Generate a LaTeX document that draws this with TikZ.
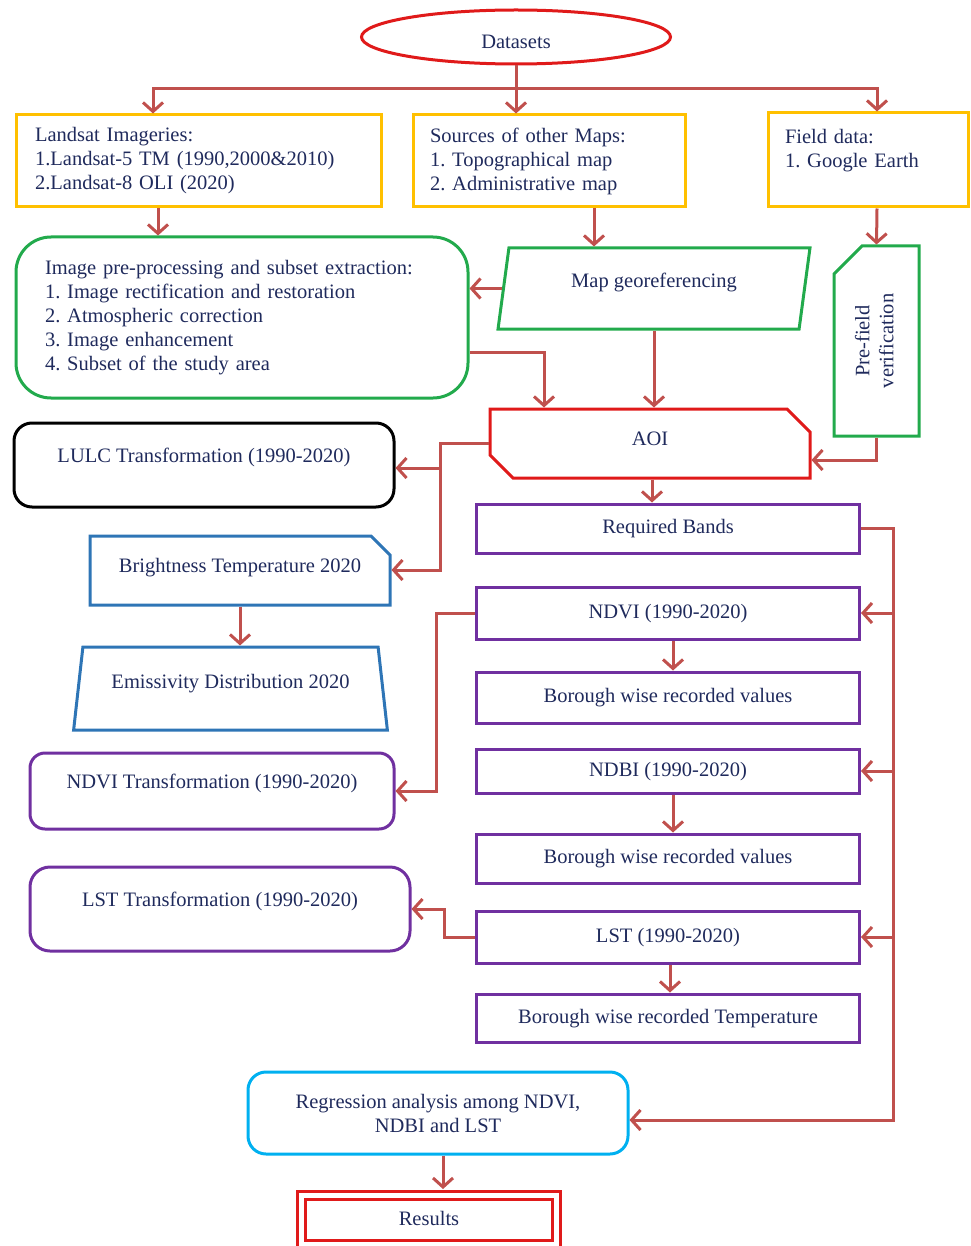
\documentclass[tikz,border=0pt]{standalone}
\usepackage{fontspec}
\setmainfont{Liberation Serif}
\usepackage{tikz}
\usetikzlibrary{arrows.meta,shapes.geometric,shapes.misc}
\frenchspacing
\definecolor{ink}{RGB}{31,42,92}
\definecolor{flowred}{RGB}{192,80,77}
\definecolor{gold}{RGB}{255,192,0}
\definecolor{leaf}{RGB}{34,170,76}
\definecolor{alert}{RGB}{224,26,26}
\definecolor{plum}{RGB}{112,48,160}
\definecolor{sea}{RGB}{46,117,182}
\definecolor{sky}{RGB}{0,176,240}
\newcommand{\fs}{\fontsize{20.5}{24}\selectfont}
\tikzstyle{box}=[draw, line width=3pt, text=ink, font=\fs, inner sep=0pt]
\tikzstyle{source}=[box, draw=gold, align=left]
\tikzstyle{task}=[box, draw=plum, minimum width=383]
\tikzstyle{link}=[draw=flowred, line width=3pt]
\tikzstyle{flow}=[link, -{Straight Barb[length=9pt,width=20pt]}]
\tikzset{lift/.style={text height=15pt, text depth=#1}, lift/.default=5pt}

\begin{document}
\begin{tikzpicture}[x=1pt,y=-1pt]
  \useasboundingbox (0,0) rectangle (970,1246);

  % data sources
  \node (ds) [box, draw=alert, ellipse, minimum width=309, minimum height=54,
              text height=29pt, text depth=5pt] at (516,37) {Datasets};
  \node (land) [source, minimum width=365, minimum height=92, text width=327]
        at (198.5,161) {Landsat Imageries:\\1.Landsat-5 TM (1990,2000\&2010)\\2.Landsat-8 OLI (2020)};
  \node (src) [source, minimum width=272, minimum height=92, text width=238]
        at (549,161) {Sources of other Maps:\\1. Topographical map\\2. Administrative map};
  \node (fld) [source, minimum width=200, minimum height=94, text width=166]
        at (868,160) {Field data:\\1. Google Earth\\\mbox{}};

  % pre-processing
  \node (prep) [box, draw=leaf, align=left, rounded corners=35, minimum width=452,
                minimum height=161, text width=394] at (242,317.5)
        {Image pre-processing and subset extraction:\\1. Image rectification and restoration\\2. Atmospheric correction\\3. Image enhancement\\4. Subset of the study area};
  \node (geo) [box, draw=leaf, trapezium, trapezium left angle=79, trapezium right angle=101,
               trapezium stretches=true, minimum width=312, minimum height=81, lift=17pt]
        at (654,288.5) {Map georeferencing};
  \node (pre) [box, draw=leaf, chamfered rectangle, chamfered rectangle corners=north west,
               chamfered rectangle xsep=14, chamfered rectangle ysep=14,
               minimum width=85, minimum height=190] at (876.5,341)
        {\rotatebox{90}{\begin{tabular}{@{}c@{}}Pre-field\\verification\end{tabular}}};
  \node (aoi) [box, draw=alert, chamfered rectangle, chamfered rectangle corners={north east,south west},
               chamfered rectangle xsep=10, chamfered rectangle ysep=13,
               minimum width=320, minimum height=69, lift=12pt] at (650,443.5) {AOI};

  % left column
  \node (lulc) [box, draw=black, rounded corners=18, minimum width=380, minimum height=84, lift=21pt]
        at (204,465) {LULC Transformation (1990-2020)};
  \node (bt) [box, draw=sea, chamfered rectangle, chamfered rectangle corners=north east,
              chamfered rectangle xsep=10, chamfered rectangle ysep=9,
              minimum width=300, minimum height=69, lift=12pt] at (240,570.5) {Brightness Temperature 2020};
  \node (em) [box, draw=sea, trapezium, trapezium left angle=76, trapezium right angle=76,
              trapezium stretches=true, minimum width=315, minimum height=83, lift=15pt]
        at (230.5,688.5) {Emissivity Distribution 2020};
  \node (ndt) [box, draw=plum, rounded corners=15, minimum width=364, minimum height=76, lift=21pt]
        at (212,791) {NDVI Transformation (1990-2020)};
  \node (lstt) [box, draw=plum, rounded corners=20, minimum width=380, minimum height=84, lift=21pt]
        at (220,909) {LST Transformation (1990-2020)};

  % right column
  \node (req) [task, minimum height=49, lift] at (668,528.5) {Required Bands};
  \node (ndvi) [task, minimum height=52, lift] at (668,613) {NDVI (1990-2020)};
  \node (bw1) [task, minimum height=51, lift] at (668,697.5) {Borough wise recorded values};
  \node (ndbi) [task, minimum height=44, lift] at (668,771) {NDBI (1990-2020)};
  \node (bw2) [task, minimum height=49, lift] at (668,858.5) {Borough wise recorded values};
  \node (lst) [task, minimum height=52, lift] at (668,937) {LST (1990-2020)};
  \node (bwt) [task, minimum height=48, lift] at (668,1018) {Borough wise recorded Temperature};

  % outcome
  \node (reg) [box, draw=sky, rounded corners=18, align=center, minimum width=380, minimum height=82]
        at (438,1113) {Regression analysis among NDVI,\\NDBI and LST};
  \node (res) [box, draw=alert, double=white, double distance=5pt, minimum width=255,
               minimum height=49, lift] at (429,1220) {Results};

  \coordinate (split) at (516,89);
  \coordinate (bus) at (893,0);

  % connections
  \draw [link] (ds.south) -- (split);
  \draw [flow] (split) -- (153,89) -- (153,0 |- land.north);
  \draw [flow] (split) -- (split |- src.north);
  \draw [flow] (split) -- (877,89) -- (877,0 |- fld.north);
  \draw [flow] (158,0 |- land.south) -- (158,0 |- prep.north);
  \draw [flow] (594,0 |- src.south) -- (594,0 |- geo.north);
  \draw [flow] (877,0 |- fld.south) -- (pre.north);
  \draw [flow] (geo.west) -- (geo.west -| prep.east);
  \draw [flow] (prep.east |- 0,352) -| (544,0 |- aoi.north);
  \draw [flow] (geo.south -| geo.center) -- (geo.center |- aoi.north);
  \draw [flow] (pre.south) |- (aoi.east |- 0,460);
  \draw [flow] (aoi.west) -| (440,570) -- (bt.east |- 0,570);
  \draw [flow] (440,468) -- (lulc.east |- 0,468);
  \draw [flow] (bt.south) -- (bt.south |- em.north);
  \draw [flow] (aoi.south -| 652,0) -- (652,0 |- req.north);

  % bands to indices
  \draw [flow] (req.east) -| (bus |- 0,1120) -- (reg.east |- 0,1120);
  \draw [flow] (ndvi.east -| bus) -- (ndvi.east);
  \draw [flow] (ndbi.east -| bus) -- (ndbi.east);
  \draw [flow] (lst.east -| bus) -- (lst.east);
  \draw [flow] (ndvi.south -| 673,0) -- (673,0 |- bw1.north);
  \draw [flow] (ndbi.south -| 673,0) -- (673,0 |- bw2.north);
  \draw [flow] (lst.south -| 670,0) -- (670,0 |- bwt.north);
  \draw [flow] (ndvi.west) -| ([xshift=41]ndt.east) -- (ndt.east);
  \draw [flow] (lst.west) -| ([xshift=33]lstt.east) -- (lstt.east);
  \draw [flow, shorten >=5pt] (reg.south -| 443,0) -- (443,0 |- res.north);

\end{tikzpicture}
\end{document}
